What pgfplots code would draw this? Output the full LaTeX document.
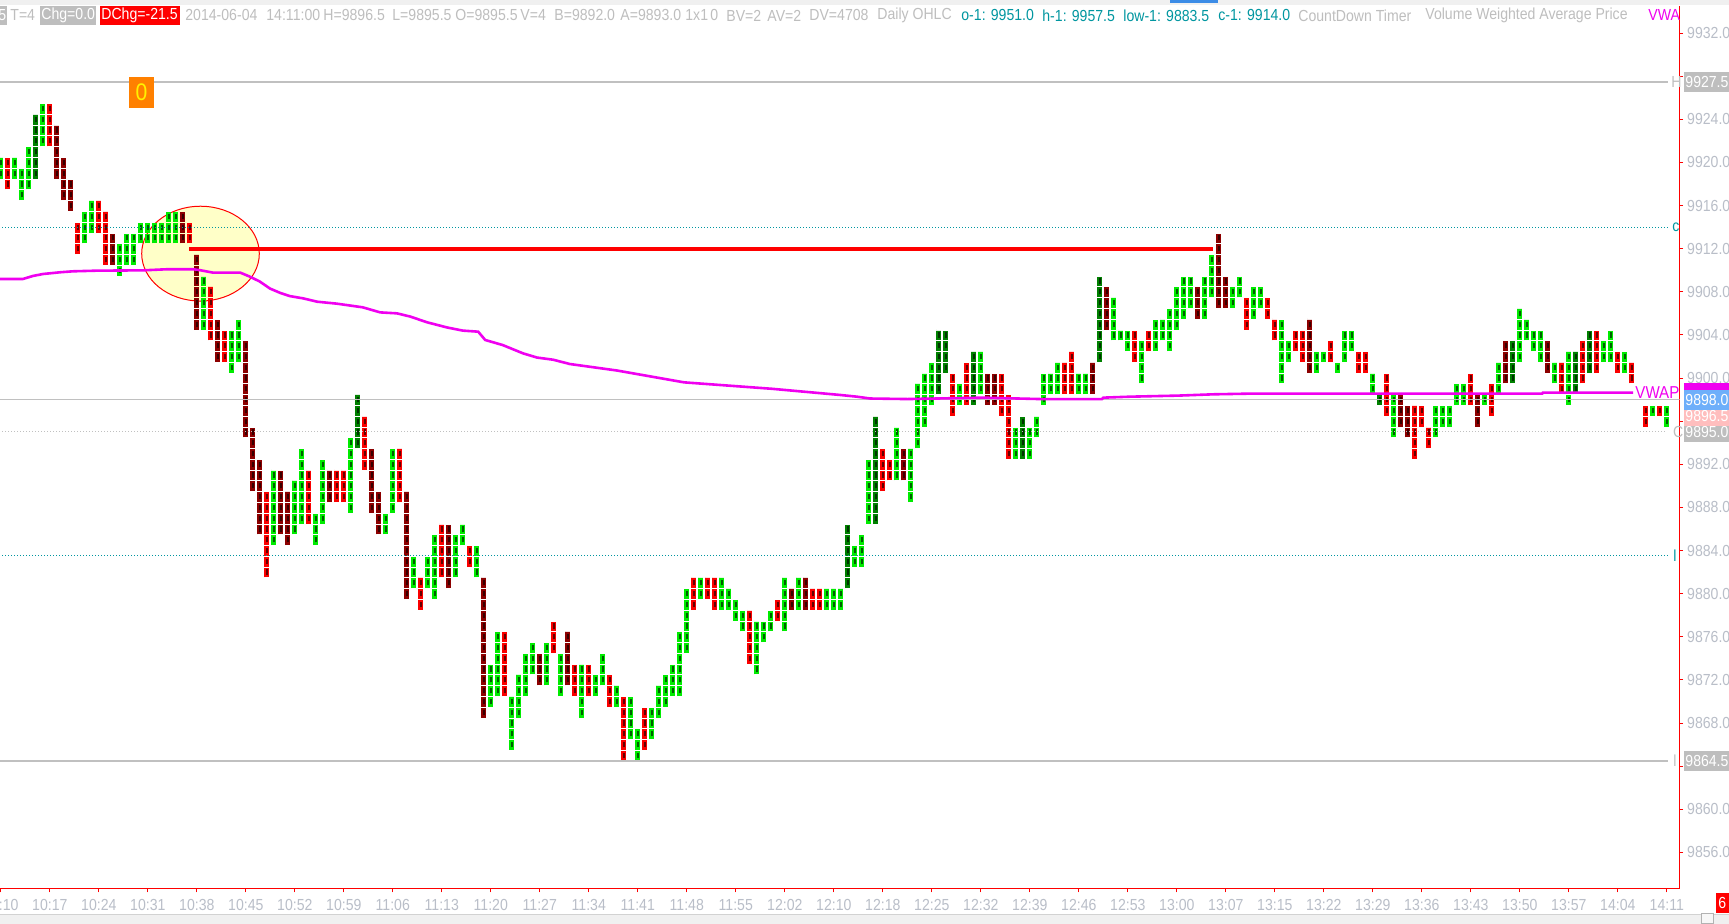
\documentclass[border=0pt]{standalone}
\usepackage{fontspec}
\setmainfont{Liberation Sans}[FakeStretch=0.88]
\usepackage{pgfplots}
\usepackage{pgfplotstable}
\pgfplotsset{compat=1.18}
\definecolor{cG}{RGB}{0,235,0}
\definecolor{cDG}{RGB}{0,128,0}
\definecolor{cR}{RGB}{250,0,0}
\definecolor{cDR}{RGB}{140,0,0}
\definecolor{tickgray}{RGB}{185,190,200}
\definecolor{hgray}{RGB}{190,190,190}
\definecolor{lgray}{RGB}{192,192,192}
\definecolor{teal2}{RGB}{0,150,160}
\definecolor{ellfill}{RGB}{255,255,200}
\definecolor{vwapc}{RGB}{240,0,240}
\definecolor{orng}{RGB}{255,128,0}
\definecolor{bluebox}{RGB}{110,175,250}
\definecolor{pinkbox}{RGB}{255,190,190}
\definecolor{topblue}{RGB}{60,140,230}

\pgfplotstableread{
i lo hi
0 9919 9920
2 9919 9920
3 9917 9919
4 9918 9921
6 9922 9925
12 9913 9915
13 9914 9916
17 9910 9912
18 9911 9913
19 9911 9913
20 9913 9914
21 9913 9914
22 9913 9914
23 9913 9914
24 9913 9915
25 9913 9915
29 9905 9909
33 9901 9904
34 9902 9905
39 9885 9891
42 9886 9890
43 9887 9893
45 9885 9887
46 9887 9892
50 9888 9894
55 9886 9887
56 9888 9893
59 9881 9883
61 9881 9883
62 9880 9885
65 9882 9885
66 9885 9886
68 9882 9884
70 9870 9873
71 9871 9876
73 9866 9870
74 9869 9872
75 9871 9874
76 9873 9875
78 9872 9875
80 9871 9874
83 9869 9873
85 9871 9872
86 9872 9874
88 9870 9871
90 9867 9870
91 9865 9867
93 9867 9869
94 9869 9871
95 9870 9872
96 9871 9873
97 9871 9876
98 9875 9880
100 9880 9881
103 9879 9881
104 9879 9880
105 9878 9879
106 9877 9878
108 9873 9877
109 9876 9877
110 9877 9878
112 9877 9881
114 9879 9881
118 9879 9880
119 9879 9880
120 9879 9880
122 9883 9884
123 9883 9885
124 9887 9892
128 9891 9895
130 9889 9893
131 9894 9899
132 9896 9900
133 9898 9901
137 9898 9899
140 9899 9902
145 9893 9895
147 9893 9895
148 9895 9896
149 9898 9900
150 9899 9900
151 9899 9901
154 9899 9900
155 9899 9900
159 9904 9907
160 9904 9904
161 9903 9904
163 9900 9903
165 9903 9905
166 9904 9905
167 9903 9906
168 9905 9908
169 9906 9909
170 9907 9909
172 9906 9909
173 9908 9911
176 9907 9908
177 9908 9909
179 9906 9908
180 9907 9908
183 9900 9905
184 9902 9903
188 9901 9902
189 9902 9902
191 9901 9901
192 9902 9904
193 9903 9904
196 9899 9900
199 9895 9898
205 9895 9897
206 9896 9897
207 9896 9897
208 9898 9899
209 9898 9899
212 9898 9898
214 9899 9901
217 9902 9906
218 9904 9905
219 9903 9904
220 9902 9904
222 9900 9901
224 9898 9902
229 9902 9903
230 9902 9904
232 9901 9902
236 9897 9897
238 9896 9897
}\tG

\pgfplotstableread{
i lo hi
5 9919 9924
51 9894 9898
121 9881 9886
125 9887 9896
134 9899 9904
135 9901 9904
139 9898 9902
146 9893 9896
157 9902 9909
197 9898 9898
216 9900 9903
225 9899 9902
227 9901 9904
}\tDG

\pgfplotstableread{
i lo hi
1 9918 9920
7 9922 9925
11 9912 9914
14 9914 9916
15 9911 9915
27 9913 9914
30 9904 9908
32 9902 9904
38 9882 9889
44 9887 9891
48 9889 9891
49 9889 9891
52 9892 9896
57 9889 9893
60 9879 9881
63 9882 9886
67 9883 9884
72 9871 9876
79 9875 9877
82 9871 9873
84 9871 9873
87 9870 9872
89 9865 9870
92 9866 9869
99 9879 9881
101 9880 9881
102 9879 9881
107 9874 9878
111 9878 9879
116 9879 9880
117 9879 9880
126 9890 9893
127 9891 9892
136 9897 9900
138 9898 9901
143 9897 9900
144 9893 9898
152 9899 9901
153 9899 9902
162 9902 9904
164 9903 9904
178 9905 9907
181 9906 9907
182 9904 9905
185 9903 9904
186 9902 9904
190 9902 9903
194 9901 9902
195 9901 9902
198 9897 9900
202 9893 9897
203 9896 9897
204 9894 9895
210 9898 9900
213 9897 9899
223 9899 9901
226 9900 9903
228 9901 9904
231 9901 9902
233 9900 9901
235 9896 9897
237 9897 9897
}\tR

\pgfplotstableread{
i lo hi
8 9919 9923
9 9917 9920
10 9916 9918
16 9911 9913
26 9913 9915
28 9905 9911
31 9902 9905
35 9895 9903
36 9890 9895
37 9886 9892
40 9886 9891
41 9885 9889
47 9889 9891
53 9888 9893
54 9886 9889
58 9880 9889
64 9881 9886
69 9869 9881
77 9872 9874
81 9872 9876
113 9879 9880
115 9879 9881
129 9891 9893
141 9898 9900
142 9898 9900
156 9899 9901
158 9905 9908
171 9906 9908
174 9907 9913
175 9907 9909
187 9901 9905
200 9896 9898
201 9895 9897
211 9896 9898
215 9900 9903
221 9901 9903
}\tDR

\newcommand{\bars}[2]{%
\addplot[draw=none, mark=none, error bars/.cd, y dir=plus, y explicit, error mark=none,
  error bar style={draw=#2, line width=2.6pt, dash pattern=on 4.89pt off 0.5pt}]
  table[x=i, y expr=\thisrow{lo}-0.5, y error expr=\thisrow{hi}-\thisrow{lo}+1] {#1};
\addplot[draw=none, mark=none, error bars/.cd, y dir=plus, y explicit, error mark=none,
  error bar style={draw=black, line width=1.0pt, draw opacity=0.6, dash pattern=on 2.6pt off 2.79pt, dash phase=3.99pt}]
  table[x=i, y expr=\thisrow{lo}-0.5, y error expr=\thisrow{hi}-\thisrow{lo}+1] {#1};
}

\begin{document}
\begin{tikzpicture}[font=\fontsize{8}{9.6}\selectfont]
\useasboundingbox (0,-17.5pt) rectangle (864.5pt,444.5pt);
\fill[white] (0,-17.5pt) rectangle (864.5pt,444.5pt);
\begin{axis}[
  at={(0pt,0pt)}, anchor=south west,
  scale only axis, width=839.8pt, height=441.5pt,
  xmin=-0.114, xmax=239.83, ymin=9852.602, ymax=9934.513,
  axis x line*=bottom, axis y line*=right,
  axis line style={red, line width=0.5pt},
  tick style={red, line width=0.5pt}, tick align=outside, major tick length=1.75pt,
  xtick={0,7,...,238},
  xticklabels={10:10,10:17,10:24,10:31,10:38,10:45,10:52,10:59,11:06,11:13,11:20,11:27,11:34,11:41,11:48,11:55,12:02,12:10,12:18,12:25,12:32,12:39,12:46,12:53,13:00,13:07,13:15,13:22,13:29,13:36,13:43,13:50,13:57,14:04,14:11},
  ytick={9856,9860,9868,9872,9876,9880,9884,9888,9892,9900,9904,9908,9912,9916,9920,9924,9932},
  yticklabels={9856.0,9860.0,9868.0,9872.0,9876.0,9880.0,9884.0,9888.0,9892.0,9900.0,9904.0,9908.0,9912.0,9916.0,9920.0,9924.0,9932.0},
  extra y ticks={9864,9896,9928}, extra y tick labels={},
  extra y tick style={tick style={red, line width=0.5pt}},
  ticklabel style={font=\fontsize{8}{9.6}\selectfont, text=tickgray},
  yticklabel style={anchor=west, xshift=-1.5pt},
  clip mode=individual,
]
% highlight ellipse
\draw[red, line width=0.5pt, fill=ellfill] (axis cs:28.53,9911.54) ellipse [x radius=29.4pt, y radius=23.7pt];
% bars
\bars{\tG}{cG}
\bars{\tDG}{cDG}
\bars{\tR}{cR}
\bars{\tDR}{cDR}
% reference levels
\addplot[lgray, line width=1pt] coordinates {(-0.2,9927.5) (238.17,9927.5)};
\addplot[lgray, line width=1pt] coordinates {(-0.2,9864.5) (238.17,9864.5)};
\addplot[lgray, line width=0.6pt] coordinates {(-0.2,9898) (239.9,9898)};
\addplot[lgray, line width=0.5pt, dash pattern=on 0.5pt off 1pt] coordinates {(-0.2,9895) (237.9,9895)};
\addplot[teal2, line width=0.5pt, dash pattern=on 0.5pt off 1pt] coordinates {(-0.2,9914) (238.17,9914)};
\addplot[teal2, line width=0.5pt, dash pattern=on 0.5pt off 1pt] coordinates {(-0.2,9883.5) (238.17,9883.5)};
% VWAP
\addplot[vwapc, line width=1.3pt] coordinates {
(-0.2,9909.19) (3.17,9909.19) (4.6,9909.47) (6.03,9909.65) (8.46,9909.81) (10.3,9909.9) (13.7,9909.96) (20.3,9909.99) (23.7,9910.09) (27.5,9910.09) (28.5,9910.0) (30.3,9909.78) (34.2,9909.78) (35.6,9909.4) (37.0,9908.95) (38.46,9908.3) (39.9,9907.9) (41.3,9907.6) (43.2,9907.39) (45.2,9907.08) (48.0,9906.9) (51.7,9906.56) (54.2,9906.09) (56.6,9906.0) (58.5,9905.7) (60.9,9905.17) (63.7,9904.7) (66.0,9904.4) (68.2,9904.3) (69.2,9903.53) (71.7,9903.06) (74.6,9902.29) (76.6,9901.9) (78.9,9901.7) (81.3,9901.3) (88.0,9900.7) (97.6,9899.6) (110.2,9899.0) (119.9,9898.43) (122.3,9898.27) (124.2,9898.1) (129.5,9898.05) (140.3,9898.18) (148.5,9898.05) (157.3,9898.05) (157.5,9898.18) (161.3,9898.27) (168.2,9898.37) (173.2,9898.49) (178.2,9898.55) (220.2,9898.55) (220.3,9898.65) (233.2,9898.65)};
% drawn level line
\addplot[red, line width=1.9pt] coordinates {(26.9,9912) (173.2,9912)};
\end{axis}
% top band
\fill[gray!12] (0,442pt) rectangle (864.5pt,444.5pt);
\fill[topblue] (585pt,443pt) rectangle (609pt,444.5pt);
% header
\fill[hgray] (0,432pt) rectangle (3.5pt,441.5pt);
\node[anchor=east, inner sep=0, text=white] at (3.3pt,436.75pt) {5};
\node[anchor=west, inner sep=0, text=hgray] at (5pt,436.75pt) {T=4};
\fill[hgray] (20pt,432pt) rectangle (48pt,441.5pt);
\node[anchor=west, inner sep=0, text=white] at (20.5pt,436.75pt) {Chg=0.0};
\fill[red] (50pt,432pt) rectangle (90pt,441.5pt);
\node[anchor=west, inner sep=0, text=white] at (50.5pt,436.75pt) {DChg=-21.5};
\begin{scope}[every node/.style={anchor=west, inner sep=0, text=hgray}]
\node at (92.5pt,436.75pt) {2014-06-04};
\node at (133pt,436.75pt) {14:11:00};
\node at (161.5pt,436.75pt) {H=9896.5};
\node at (196pt,436.75pt) {L=9895.5};
\node at (227.5pt,436.75pt) {O=9895.5};
\node at (260pt,436.75pt) {V=4};
\node at (277pt,436.75pt) {B=9892.0};
\node at (310pt,436.75pt) {A=9893.0};
\node at (342.5pt,436.75pt) {1x1};
\node at (355pt,436.75pt) {0};
\node at (363pt,436.75pt) {BV=2};
\node at (383.5pt,436.75pt) {AV=2};
\node at (404.5pt,436.75pt) {DV=4708};
\node at (438.5pt,436.75pt) {Daily OHLC};
\node[text=teal2] at (480.5pt,436.75pt) {o-1: 9951.0};
\node[text=teal2] at (521pt,436.75pt) {h-1: 9957.5};
\node[text=teal2] at (561.5pt,436.75pt) {low-1: 9883.5};
\node[text=teal2] at (609pt,436.75pt) {c-1: 9914.0};
\node at (649pt,436.75pt) {CountDown Timer};
\node at (712.5pt,436.75pt) {Volume Weighted Average Price};
\node[text=vwapc] at (824pt,436.75pt) {VWA};
% line end letters
\node at (835.5pt,403.7pt) {H};
\node at (836.3pt,228.5pt) {C};
\node[text=teal2] at (836pt,330.9pt) {c};
\node[text=teal2] at (836.5pt,166.5pt) {l};
\node at (836.5pt,64.1pt) {l};
\node[text=vwapc, font=\fontsize{8.6}{9}\selectfont] at (817.5pt,248.2pt) {VWAP};
\end{scope}
% orange marker
\fill[orng] (64.5pt,390.5pt) rectangle (77pt,406pt);
\node[text=yellow, inner sep=0, font=\fontsize{12}{12}\selectfont] at (70.75pt,398.25pt) {0};
% right price boxes
\begin{scope}[every node/.style={anchor=west, inner sep=0, text=white}]
\fill[hgray] (842pt,398.7pt) rectangle (864.5pt,408.7pt); \node at (842.5pt,403.7pt) {9927.5};
\fill[hgray] (842pt,59.1pt) rectangle (864.5pt,69.1pt); \node at (842.5pt,64.1pt) {9864.5};
\fill[hgray] (842pt,223.5pt) rectangle (864.5pt,233.5pt); \node at (842.5pt,228.5pt) {9895.0};
\fill[pinkbox] (842pt,231.6pt) rectangle (864.5pt,241.6pt); \node at (842.5pt,236.6pt) {9896.5};
\fill[vwapc] (842pt,243.2pt) rectangle (864.5pt,253.2pt);
\fill[bluebox] (842pt,239.7pt) rectangle (864.5pt,249.7pt); \node at (842.5pt,244.7pt) {9898.0};
\end{scope}
% bottom strip
\fill[gray!12] (0,-17.5pt) rectangle (864.5pt,-13pt);
\draw[gray!35, line width=0.5pt] (0,-13pt) -- (864.5pt,-13pt);
\draw[gray!60, fill=gray!6, line width=0.5pt] (850.5pt,-17.3pt) rectangle (856.5pt,-12.3pt);
\fill[red] (858pt,-12pt) rectangle (864.5pt,-2pt);
\node[anchor=west, inner sep=0, text=white] at (859pt,-7pt) {6};
\end{tikzpicture}
\end{document}
